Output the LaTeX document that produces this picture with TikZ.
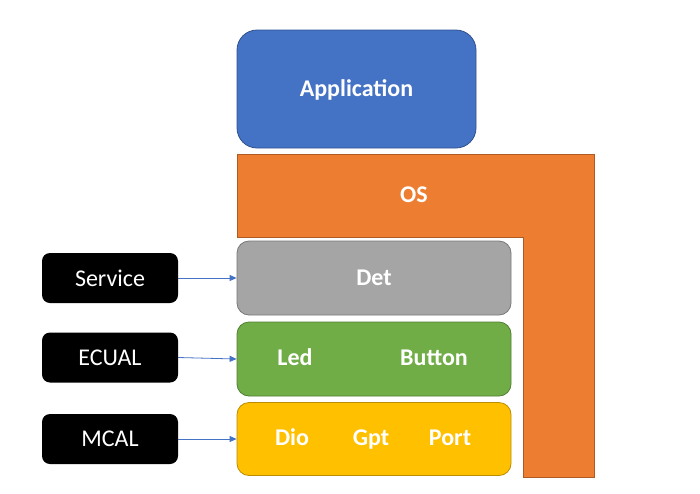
\documentclass[tikz,border=0pt]{standalone}
\usepackage{fontspec}
\setmainfont{Carlito}
\usetikzlibrary{arrows.meta}

\definecolor{appblue}{HTML}{4472C4}
\definecolor{appedge}{HTML}{2F528F}
\definecolor{osorange}{HTML}{ED7D31}
\definecolor{osedge}{HTML}{AE5A21}
\definecolor{detgray}{HTML}{A5A5A5}
\definecolor{detedge}{HTML}{787878}
\definecolor{ecugreen}{HTML}{70AD47}
\definecolor{ecuedge}{HTML}{507E32}
\definecolor{mcalyellow}{HTML}{FFC000}
\definecolor{mcaledge}{HTML}{BC8C00}

\tikzset{
  layer/.style={draw, line width=0.8pt, rounded corners=12pt, inner sep=0pt},
  tag/.style={fill=black, rounded corners=8pt, text=white, minimum width=136pt,
    minimum height=50pt, font=\fontsize{24}{28}\selectfont},
  lbl/.style={text=white, font=\bfseries\fontsize{24}{28}\selectfont,
    text height=18pt, text depth=3pt},
  link/.style={draw=appblue, line width=0.8pt, -{Triangle[length=7pt,width=6pt]}}
}

\begin{document}
\begin{tikzpicture}[x=1pt,y=-1pt]
  \useasboundingbox (0,0) rectangle (700,493);

  % upper layers
  \node[layer, rounded corners=20pt, fill=appblue, draw=appedge,
    minimum width=239pt, minimum height=118pt] (app) at (356.5,89) {};
  \node[lbl] at (app.center) {Application};

  \draw[fill=osorange, draw=osedge, line width=0.8pt]
    (237,154) -- (594,154) -- (594,477) -- (523,477) -- (523,237) -- (237,237) -- cycle;
  \node[lbl] (os) at (414,195) {OS};

  % lower layers
  \node[layer, fill=detgray, draw=detedge,
    minimum width=274pt, minimum height=74pt] (det) at (374,278) {};
  \node[lbl] at (det.center) {Det};

  \node[layer, fill=ecugreen, draw=ecuedge,
    minimum width=274pt, minimum height=74pt] (ecu) at (374,359) {};
  \node[lbl] (led) at (295,358) {Led};
  \node[lbl] (button) at (434,358) {Button};

  \node[layer, fill=mcalyellow, draw=mcaledge,
    minimum width=274pt, minimum height=73pt] (mcal) at (374,439) {};
  \node[lbl] (dio) at (292,438) {Dio};
  \node[lbl] (gpt) at (371,438) {Gpt};
  \node[lbl] (port) at (450,438) {Port};

  % tags
  \node[tag] (service) at (110,278) {Service};
  \node[tag] (ecual) at (110,357.5) {ECUAL};
  \node[tag] (mcaltag) at (110,439) {MCAL};

  \draw[link] (service) -- (det);
  \draw[link] (ecual.east) -- (ecu.west);
  \draw[link] (mcaltag) -- (mcal);
\end{tikzpicture}
\end{document}
